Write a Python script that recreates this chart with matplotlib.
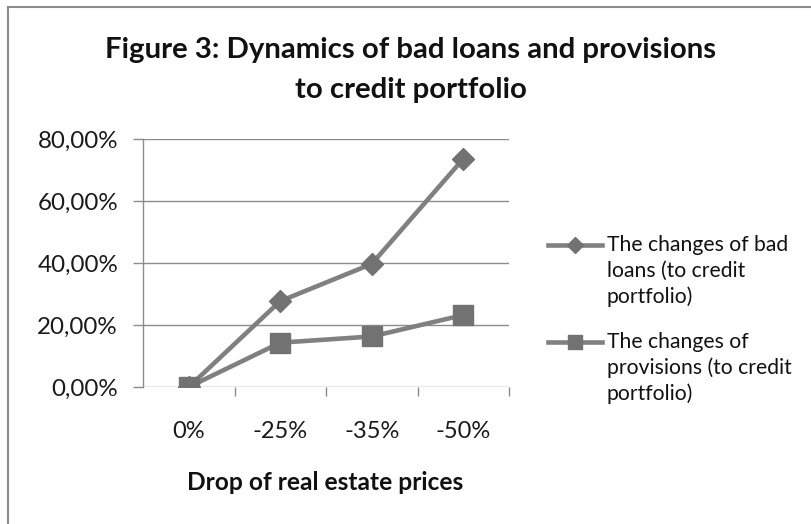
import matplotlib
matplotlib.use("Agg")
import matplotlib.pyplot as plt
from matplotlib.ticker import FuncFormatter
from matplotlib.lines import Line2D

categories = ["0%", "-25%", "-35%", "-50%"]
bad_loans = [0.0, 0.277, 0.397, 0.736]
provisions = [0.0, 0.143, 0.163, 0.232]
series_labels = ["The changes of bad\nloans (to credit\nportfolio)",
                 "The changes of\nprovisions (to credit\nportfolio)"]
title_lines = ["Figure 3: Dynamics of bad loans and provisions", "to credit portfolio"]
x_title = "Drop of real estate prices"
yticks = [0.0, 0.2, 0.4, 0.6, 0.8]

plt.rcParams['font.family'] = ['Lato', 'DejaVu Sans']

W, H = 811, 524
fig = plt.figure(figsize=(W / 100, H / 100), dpi=100)
fig.patch.set_facecolor("white")
renderer = fig.canvas.get_renderer()
PT = 100 / 72.0  # px per point


def fx(px):
    return px / W


def fy(py):
    return 1 - py / H


def fit(s, target_px, weight="normal"):
    t = fig.text(0, 0, s, fontsize=20, fontweight=weight)
    w = t.get_window_extent(renderer).width
    t.remove()
    return 20 * target_px / w


# chart border (left and top edges visible)
fig.add_artist(Line2D([fx(8), fx(8)], [0, fy(7)], transform=fig.transFigure,
                      color="#8c8c8c", lw=1.5))
fig.add_artist(Line2D([fx(8), 1], [fy(7), fy(7)], transform=fig.transFigure,
                      color="#8c8c8c", lw=1.5))

left, right, top, bottom = 143, 509, 139, 387
ax = fig.add_axes([fx(left), fy(bottom), (right - left) / W, (bottom - top) / H])

x = list(range(len(categories)))
line_color = "#808080"
mark_color = "#727272"
ax.plot(x, bad_loans, color=line_color, lw=3.3, marker="D", markersize=11.5,
        markerfacecolor=mark_color, markeredgecolor=mark_color, zorder=3)
ax.plot(x, provisions, color=line_color, lw=3.3, marker="s", markersize=14,
        markerfacecolor=mark_color, markeredgecolor=mark_color, zorder=3)

ax.set_xlim(-0.5, len(categories) - 0.5)
ax.set_ylim(0, 0.8)
ax.set_yticks(yticks)
ax.yaxis.set_major_formatter(FuncFormatter(lambda v, p: f"{v * 100:.2f}%".replace(".", ",")))
ax.set_xticks(x)
ax.set_xticklabels(categories)
ax.set_xticks([i + 0.5 for i in x], minor=True)

ylab_size = fit("80,00%", 81)
xlab_size = fit("-25%", 55)
ax.tick_params(axis="x", which="major", length=0, pad=34 / PT, labelsize=xlab_size,
               labelcolor="#1a1a1a")
ax.tick_params(axis="x", which="minor", length=9 / PT, direction="out", color="#8c8c8c", width=1)
ax.tick_params(axis="y", length=10 / PT, direction="out", color="#8c8c8c", width=1,
               pad=15 / PT, labelsize=ylab_size, labelcolor="#1a1a1a")

ax.grid(axis="y", color="#8c8c8c", lw=1)
ax.set_axisbelow(True)
for s in ["top", "right", "bottom"]:
    ax.spines[s].set_visible(False)
ax.spines["left"].set_color("#8c8c8c")
ax.spines["left"].set_linewidth(1)

# axis title
xt_size = fit(x_title, 276, "bold")
fig.text(fx((187 + 463) / 2), fy(490), x_title, ha="center", va="baseline",
         fontsize=xt_size, fontweight="bold", color="#111111")

# chart title
t_size = (fit(title_lines[0], 602, "bold") + fit(title_lines[1], 237, "bold")) / 2
for line, base in zip(title_lines, [58, 98]):
    fig.text(fx(411), fy(base), line, ha="center", va="baseline",
             fontsize=t_size, fontweight="bold", color="#111111")

# legend (drawn as in the spreadsheet: handle beside the first text line)
leg_size = (fit("loans (to credit", 136) + fit("portfolio)", 88)) / 2
markers = [("D", 8), ("s", 9.5)]
for i, lab in enumerate(series_labels):
    base0 = 251 + i * 97
    hy = base0 - 6
    fig.add_artist(Line2D([fx(548), fx(602)], [fy(hy), fy(hy)], transform=fig.transFigure,
                          color=line_color, lw=3.3))
    fig.add_artist(Line2D([fx(575)], [fy(hy)], transform=fig.transFigure, lw=0,
                          marker=markers[i][0], markersize=markers[i][1],
                          markerfacecolor=mark_color, markeredgecolor=mark_color))
    for j, part in enumerate(lab.split("\n")):
        fig.text(fx(607), fy(base0 + j * 26), part, ha="left", va="baseline",
                 fontsize=leg_size, color="#111111")

fig.savefig("out.png", dpi=100)
